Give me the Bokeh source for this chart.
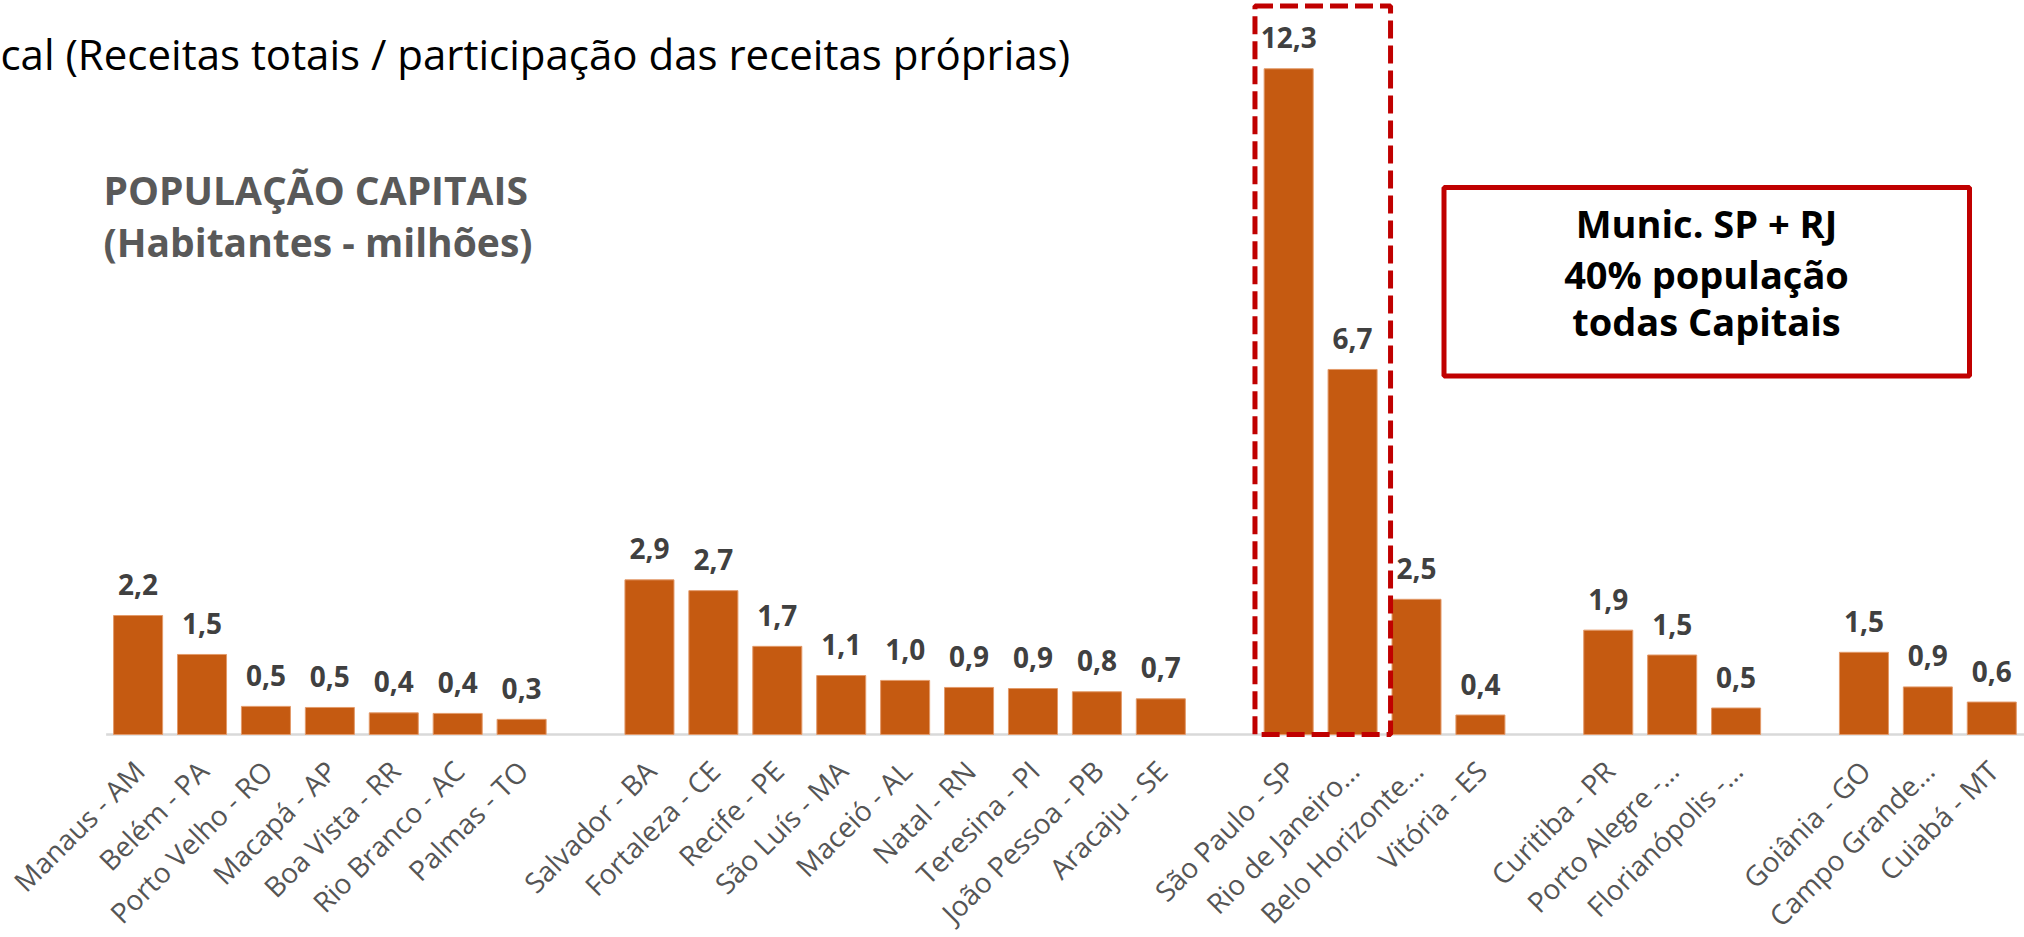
import math
from bokeh.plotting import figure
from bokeh.models import Range1d
from bokeh.embed import file_html
from bokeh.resources import INLINE
from bokeh.core.properties import value

# ---------------- data ----------------
cidades = [
    "Manaus - AM", "Belém - PA", "Porto Velho - RO", "Macapá - AP", "Boa Vista - RR",
    "Rio Branco - AC", "Palmas - TO",
    "Salvador - BA", "Fortaleza - CE", "Recife - PE", "São Luís - MA", "Maceió - AL",
    "Natal - RN", "Teresina - PI", "João Pessoa - PB", "Aracaju - SE",
    "São Paulo - SP", "Rio de Janeiro…", "Belo Horizonte…", "Vitória - ES",
    "Curitiba - PR", "Porto Alegre -…", "Florianópolis -…",
    "Goiânia - GO", "Campo Grande…", "Cuiabá - MT",
]
populacao = [
    2.20, 1.48, 0.52, 0.50, 0.40, 0.39, 0.28,
    2.86, 2.66, 1.63, 1.09, 1.00, 0.87, 0.85, 0.79, 0.66,
    12.31, 6.75, 2.50, 0.36,
    1.93, 1.47, 0.49,
    1.52, 0.88, 0.60,
]
rotulos = [
    "2,2", "1,5", "0,5", "0,5", "0,4", "0,4", "0,3",
    "2,9", "2,7", "1,7", "1,1", "1,0", "0,9", "0,9", "0,8", "0,7",
    "12,3", "6,7", "2,5", "0,4",
    "1,9", "1,5", "0,5",
    "1,5", "0,9", "0,6",
]
grupos = [7, 9, 4, 3, 3]          # regions (N, NE, SE, S, CO)
destaque = ["São Paulo - SP", "Rio de Janeiro…"]

titulo_topo = "cal (Receitas totais / participação das receitas próprias)"
titulo_1 = "POPULAÇÃO CAPITAIS"
titulo_2 = "(Habitantes - milhões)"
caixa_txt = ["Munic. SP + RJ", "40% população", "todas Capitais"]

# ---------------- layout ----------------
W, H = 2024, 937
SLOT = 63.92            # px per category slot
PXY = 54.08             # px per million
BASE = 734              # baseline, px from top of canvas
X0_CENTER = 137.6       # px of first category centre

x_start = -X0_CENTER / SLOT
x_end = x_start + W / SLOT
y_end = BASE / PXY
y_start = -(H - BASE) / PXY

def dx(px):
    return x_start + px / SLOT

def dy(py):
    return (BASE - py) / PXY

pos = []
k = 0
for g in grupos:
    for _ in range(g):
        pos.append(k)
        k += 1
    k += 1

FONT = value("Open Sans")
ORANGE = "#C55A11"
RED = "#C00000"

p = figure(width=W, height=H, output_backend="svg", toolbar_location=None,
           x_range=Range1d(x_start, x_end), y_range=Range1d(y_start, y_end),
           min_border_left=0, min_border_right=0, min_border_top=0, min_border_bottom=0)
p.xaxis.visible = False
p.yaxis.visible = False
p.grid.visible = False
p.outline_line_color = None
p.background_fill_color = "white"
p.border_fill_color = "white"

# baseline (category axis line)
p.segment(x0=[pos[0] - 0.5], x1=[x_end], y0=[0], y1=[0],
          line_color="#D9D9D9", line_width=2.5)

# bars
p.vbar(x=pos, top=populacao, bottom=0, width=0.767,
       fill_color=ORANGE, line_color="#E39A6A", line_width=1)

# value labels
p.text(x=pos, y=populacao, text=rotulos, text_align="center", text_baseline="alphabetic",
       y_offset=-31, text_font=FONT, text_font_style="bold", text_font_size="28px",
       text_color="#404040")

# category labels (rotated)
p.text(x=pos, y=[0] * len(pos), text=cidades, angle=math.pi / 4,
       text_align="right", text_baseline="middle", x_offset=1, y_offset=31,
       text_font=FONT, text_font_size="28px", text_color="#555555")

# dashed highlight around SP + RJ
i_sp = cidades.index(destaque[0])
i_rj = cidades.index(destaque[1])
p.quad(left=[pos[i_sp] - 0.527], right=[pos[i_rj] + 0.594], bottom=[0], top=[dy(5.5)],
       fill_color=None, line_color=RED, line_width=5, line_dash="18 7")

# annotation box
p.quad(left=[dx(1443.5)], right=[dx(1969)], top=[dy(187)], bottom=[dy(375.5)],
       fill_color="white", line_color=RED, line_width=5)
p.text(x=[dx(1706)] * 3, y=[dy(222), dy(273), dy(320)], text=caixa_txt,
       text_align="center", text_baseline="alphabetic", text_font=FONT,
       text_font_style="bold", text_font_size="38px", text_color="black")

# titles
p.text(x=[dx(0)], y=[dy(53)], text=[titulo_topo], text_align="left",
       text_baseline="alphabetic", text_font=FONT, text_font_size="42px", text_color="black")
p.text(x=[dx(103)], y=[dy(189)], text=[titulo_1], text_align="left",
       text_baseline="alphabetic", text_font=FONT, text_font_style="bold",
       text_font_size="39px", text_color="#595959")
p.text(x=[dx(103)], y=[dy(241)], text=[titulo_2], text_align="left",
       text_baseline="alphabetic", text_font=FONT, text_font_style="bold",
       text_font_size="39px", text_color="#595959")

open("out.html", "w").write(file_html(p, INLINE))
